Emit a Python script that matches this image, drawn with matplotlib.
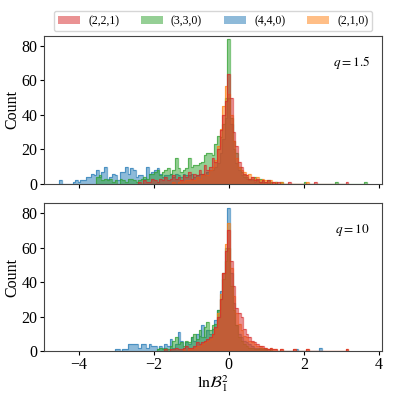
import matplotlib

matplotlib.use("Agg")

import matplotlib.pyplot as plt
import numpy as np
from matplotlib.patches import Patch

plt.rcParams["font.family"] = ["Liberation Serif", "DejaVu Serif"]
plt.rcParams["mathtext.fontset"] = "stix"

# common bin grid: width 0.07, bin i is centred on -4.55 + 0.07 * i
BIN_WIDTH = 0.07
FIRST_CENTER = -4.55

LABELS = ["(2,2,1)", "(3,3,0)", "(4,4,0)", "(2,1,0)"]
COLORS = ["tab:red", "tab:green", "tab:blue", "tab:orange"]
PANEL_TEXT = [r"$q=1.5$", r"$q=10$"]

# top panel (q = 1.5): first bin index, then counts per bin
TOP_221_START = 31
TOP_221 = [1, 0, 2, 1, 1, 3, 2, 1, 3, 2, 4, 2, 3, 5, 3, 4, 2, 5, 4, 7,
           3, 6, 5, 8, 6, 11, 8, 10, 15, 13, 20, 31, 40, 48, 64, 50, 30, 22, 13, 10,
           6, 5, 3, 4, 2, 3, 1, 2, 1, 2, 0, 1, 0, 1, 0, 0, 0, 1, 0, 0,
           0, 0, 0, 0, 0, 0, 0, 1, 0, 0, 0, 0, 0, 0, 0, 0, 0, 0, 0, 1]
TOP_330_START = 15
TOP_330 = [4, 5, 2, 3, 2, 3, 1, 2, 0, 3, 2, 1, 3, 3, 2, 1, 2, 3, 4, 3,
           6, 6, 7, 8, 5, 7, 8, 9, 6, 8, 15, 9, 7, 8, 9, 15, 10, 11, 11, 12,
           13, 17, 18, 18, 17, 23, 28, 27, 35, 50, 84, 38, 25, 18, 10, 7, 5, 4, 3, 3,
           4, 2, 3, 2, 1, 2, 1, 0, 1, 0, 1, 0, 0, 0, 0, 0, 0, 0, 0, 1,
           0, 0, 0, 0, 0, 0, 0, 0, 0, 0, 0, 1, 0, 0, 0, 0, 0, 0, 0, 0,
           0, 0, 1]
TOP_440_START = 1
TOP_440 = [2, 0, 0, 0, 0, 1, 2, 1, 2, 2, 4, 4, 6, 5, 8, 4, 7, 10, 3, 4,
           6, 5, 2, 7, 7, 10, 6, 9, 8, 4, 5, 5, 3, 10, 6, 7, 8, 9, 6, 4,
           5, 5, 6, 4, 6, 5, 4, 6, 5, 5, 6, 4, 5, 6, 6, 5, 7, 8, 8, 10,
           12, 18, 26, 38, 50, 35, 20, 12, 8, 5, 4, 3, 2, 2, 1, 2, 1, 1, 0, 1,
           1, 0, 1]
TOP_210_START = 44
TOP_210 = [1, 0, 1, 2, 1, 2, 2, 3, 2, 4, 3, 5, 6, 5, 8, 10, 14, 22, 32, 45,
           57, 52, 40, 25, 15, 10, 8, 7, 5, 6, 4, 3, 4, 2, 3, 2, 1, 2, 1, 1,
           0, 1, 0, 0, 0, 0, 0, 0, 0, 0, 0, 1]

# bottom panel (q = 10)
BOT_221_START = 41
BOT_221 = [1, 0, 1, 1, 2, 1, 1, 2, 3, 2, 2, 3, 5, 4, 5, 6, 7, 8, 10, 14,
           20, 30, 45, 58, 70, 52, 38, 25, 22, 20, 13, 10, 8, 6, 5, 4, 3, 3, 2, 1,
           2, 1, 1, 0, 1, 0, 0, 0, 0, 1, 0, 0, 0, 0, 1, 0, 0, 0, 0, 0,
           0, 0, 0, 0, 0, 0, 0, 0, 0, 1]
BOT_330_START = 38
BOT_330 = [1, 2, 1, 2, 1, 3, 6, 8, 4, 5, 3, 6, 5, 8, 10, 7, 12, 8, 14, 17,
           12, 15, 16, 24, 30, 42, 52, 60, 38, 24, 15, 8, 6, 4, 3, 2, 2, 1, 1, 2,
           1, 1, 0, 1]
BOT_440_START = 22
BOT_440 = [1, 1, 0, 1, 1, 4, 4, 4, 4, 2, 4, 4, 2, 4, 3, 3, 1, 3, 2, 4,
           3, 7, 2, 4, 11, 6, 2, 5, 4, 8, 6, 10, 9, 15, 8, 12, 10, 13, 18, 24,
           35, 45, 60, 83, 45, 28, 15, 10, 8, 6, 5, 4, 3, 2, 2, 1, 2, 1, 1, 0,
           0, 0, 0, 0, 0, 0, 0, 0, 0, 1, 0, 0, 0, 0, 0, 0, 0, 0, 2]
BOT_210_START = 48
BOT_210 = [1, 0, 1, 2, 2, 3, 3, 4, 5, 6, 7, 10, 13, 22, 33, 45, 62, 74, 48, 32,
           22, 16, 12, 9, 8, 6, 5, 4, 3, 3, 2, 2, 1, 2, 1, 1, 0, 1, 0, 0,
           0, 0, 1, 0, 0, 0, 0, 1, 0, 0, 0, 0, 0, 0, 0, 0, 0, 0, 0, 0,
           0, 0, 1]

PANELS = [
    [(TOP_221_START, TOP_221), (TOP_330_START, TOP_330),
     (TOP_440_START, TOP_440), (TOP_210_START, TOP_210)],
    [(BOT_221_START, BOT_221), (BOT_330_START, BOT_330),
     (BOT_440_START, BOT_440), (BOT_210_START, BOT_210)],
]
DRAW_ORDER = [2, 1, 3, 0]


def bin_edges(start, n):
    left = FIRST_CENTER + BIN_WIDTH * (start - 0.5)
    return left + BIN_WIDTH * np.arange(n + 1)


fig = plt.figure(figsize=(3.99, 3.99), dpi=100)
ax_top = fig.add_axes([0.110, 0.539, 0.847, 0.371])
ax_bot = fig.add_axes([0.110, 0.120, 0.847, 0.371], sharex=ax_top)

for ax, series, text in zip([ax_top, ax_bot], PANELS, PANEL_TEXT):
    for k in DRAW_ORDER:
        start, counts = series[k]
        counts = np.asarray(counts, dtype=float)
        edges = bin_edges(start, len(counts))
        ax.stairs(counts, edges, fill=True, color=COLORS[k], alpha=0.5, linewidth=0)
        ax.stairs(counts, edges, fill=False, color=COLORS[k], alpha=0.6, linewidth=0.9)
    ax.set_ylim(0, 85.8)
    ax.set_yticks([0, 20, 40, 60, 80])
    ax.set_ylabel("Count", fontsize=11.5, labelpad=1)
    ax.tick_params(labelsize=11.5, length=3, pad=1.5)
    ax.text(0.965, 0.82, text, transform=ax.transAxes, ha="right", va="center", fontsize=9.5)
    for spine in ax.spines.values():
        spine.set_color("#444444")

ax_top.set_xlim(-4.93, 4.08)
ax_top.set_xticks([-4, -2, 0, 2, 4])
ax_top.tick_params(labelbottom=False)
ax_bot.set_xlabel(r"$\mathrm{ln}\mathcal{B}_1^2$", fontsize=11.5, labelpad=0)

handles = [Patch(facecolor=c, alpha=0.5, label=l) for c, l in zip(COLORS, LABELS)]
fig.legend(handles=handles, loc="center", bbox_to_anchor=(0.534, 0.947), ncol=4,
           fontsize=8.5, frameon=True, handlelength=1.85, handleheight=0.6,
           columnspacing=1.85, borderpad=0.35, handletextpad=0.7)

fig.savefig("out.png", dpi=100)
